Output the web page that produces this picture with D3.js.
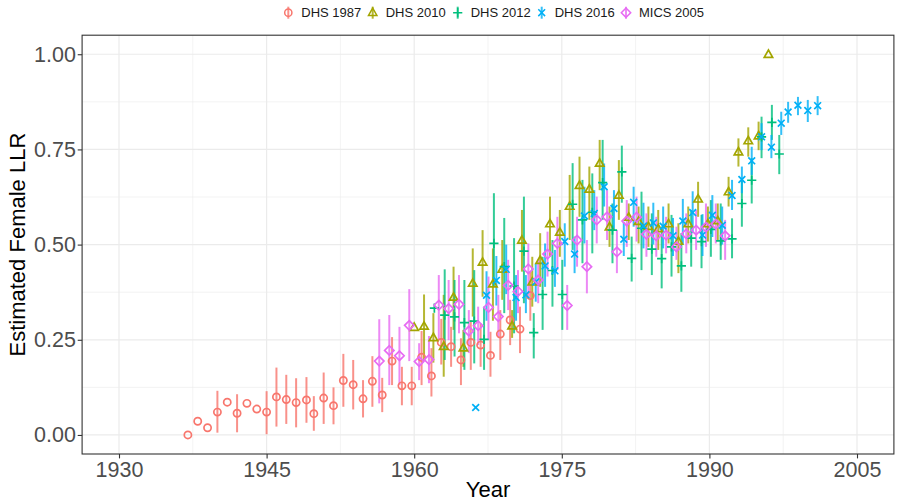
<!DOCTYPE html>
<html>
<head>
<meta charset="utf-8">
<script src="https://cdn.jsdelivr.net/npm/d3@7"></script>
<style>
  html, body { margin: 0; padding: 0; background: #ffffff; }
  svg { display: block; font-family: "Liberation Sans", Arial, Helvetica, sans-serif; }
</style>
</head>
<body>
<svg id="chart" width="897" height="502"></svg>
<script>
// ---------------- DATA ----------------
const seriesNames = ["DHS 1987", "DHS 2010", "DHS 2012", "DHS 2016", "MICS 2005"];
const seriesColors = ["#F8766D", "#A3A500", "#00BF7D", "#00B0F6", "#E76BF3"];
const seriesShapes = ["circle", "triangle", "plus", "cross", "diamond"];

const xTicks = [1930, 1945, 1960, 1975, 1990, 2005];
const yTicks = [0, 0.25, 0.5, 0.75, 1.0];
const xTitle = "Year";
const yTitle = "Estimated Female LLR";

// DHS 1987
const dhs1987Year = [1937.0, 1938.0, 1939.0, 1940.0, 1941.0, 1942.0, 1943.0, 1944.0, 1945.0, 1946.0, 1947.0, 1948.0, 1949.05, 1949.8, 1950.8, 1951.8, 1952.8, 1953.8, 1954.8, 1955.75, 1956.75, 1957.75, 1958.75, 1959.75, 1960.75, 1961.75, 1962.75, 1963.75, 1964.75, 1965.75, 1966.75, 1967.75, 1968.75, 1969.75, 1970.75, 1971.8];
const dhs1987Llr = [0.000, 0.036, 0.019, 0.060, 0.086, 0.057, 0.083, 0.068, 0.060, 0.100, 0.093, 0.085, 0.092, 0.056, 0.097, 0.077, 0.143, 0.132, 0.095, 0.141, 0.105, 0.194, 0.129, 0.129, 0.204, 0.155, 0.243, 0.232, 0.197, 0.243, 0.236, 0.209, 0.265, 0.302, 0.278, 0.366];
const dhs1987Lo = [0.000, 0.036, 0.019, 0.006, 0.086, 0.007, 0.083, 0.068, 0.002, 0.022, 0.029, 0.020, 0.032, 0.011, 0.029, 0.028, 0.074, 0.067, 0.046, 0.074, 0.060, 0.131, 0.078, 0.078, 0.131, 0.101, 0.185, 0.179, 0.131, 0.171, 0.179, 0.153, 0.197, 0.236, 0.215, 0.300];
const dhs1987Hi = [0.000, 0.036, 0.019, 0.116, 0.086, 0.107, 0.083, 0.068, 0.115, 0.177, 0.158, 0.149, 0.152, 0.102, 0.164, 0.125, 0.213, 0.197, 0.144, 0.207, 0.150, 0.257, 0.179, 0.179, 0.273, 0.228, 0.305, 0.284, 0.254, 0.302, 0.293, 0.271, 0.328, 0.355, 0.337, 0.430];

// DHS 2010
const dhs2010Year = [1960.0, 1961.0, 1961.95, 1963.0, 1964.0, 1965.0, 1965.95, 1966.95, 1968.0, 1968.95, 1969.95, 1970.95, 1972.0, 1972.8, 1973.8, 1974.8, 1975.8, 1976.8, 1977.8, 1978.85, 1979.85, 1980.8, 1981.8, 1982.8, 1983.8, 1984.8, 1985.85, 1986.85, 1987.85, 1988.85, 1989.85, 1990.85, 1991.95, 1992.95, 1993.95, 1995.0, 1996.0];
const dhs2010Llr = [0.282, 0.285, 0.255, 0.232, 0.361, 0.228, 0.398, 0.453, 0.396, 0.435, 0.286, 0.511, 0.401, 0.458, 0.554, 0.532, 0.600, 0.655, 0.645, 0.713, 0.546, 0.629, 0.571, 0.560, 0.547, 0.541, 0.554, 0.508, 0.554, 0.619, 0.554, 0.562, 0.638, 0.743, 0.772, 0.785, 0.999];
const dhs2010Lo = [0.282, 0.197, 0.190, 0.153, 0.276, 0.179, 0.311, 0.363, 0.300, 0.355, 0.255, 0.429, 0.337, 0.389, 0.468, 0.468, 0.512, 0.573, 0.565, 0.643, 0.494, 0.565, 0.512, 0.503, 0.494, 0.486, 0.503, 0.425, 0.503, 0.573, 0.508, 0.512, 0.600, 0.705, 0.731, 0.748, 0.999];
const dhs2010Hi = [0.282, 0.369, 0.320, 0.368, 0.442, 0.276, 0.490, 0.538, 0.490, 0.512, 0.328, 0.591, 0.468, 0.530, 0.626, 0.591, 0.683, 0.731, 0.705, 0.775, 0.600, 0.722, 0.608, 0.600, 0.600, 0.591, 0.608, 0.556, 0.600, 0.665, 0.600, 0.608, 0.678, 0.779, 0.808, 0.823, 0.999];

// DHS 2012
const dhs2012Year = [1962.05, 1963.1, 1964.1, 1965.1, 1966.1, 1967.1, 1968.1, 1969.15, 1970.15, 1971.15, 1972.15, 1973.05, 1974.05, 1975.05, 1976.1, 1977.1, 1978.1, 1979.15, 1980.15, 1981.1, 1982.1, 1983.1, 1984.15, 1985.15, 1986.15, 1987.15, 1988.15, 1989.2, 1990.15, 1991.15, 1992.3, 1993.3, 1994.3, 1995.3, 1996.35, 1997.1];
const dhs2012Llr = [0.333, 0.315, 0.310, 0.295, 0.299, 0.251, 0.503, 0.442, 0.391, 0.483, 0.269, 0.369, 0.432, 0.369, 0.606, 0.565, 0.585, 0.663, 0.538, 0.691, 0.464, 0.543, 0.488, 0.463, 0.494, 0.444, 0.517, 0.508, 0.540, 0.510, 0.515, 0.608, 0.669, 0.783, 0.821, 0.738];
const dhs2012Lo = [0.333, 0.197, 0.206, 0.171, 0.188, 0.171, 0.389, 0.320, 0.267, 0.346, 0.201, 0.276, 0.337, 0.276, 0.486, 0.451, 0.477, 0.565, 0.451, 0.610, 0.403, 0.433, 0.420, 0.385, 0.416, 0.376, 0.442, 0.438, 0.468, 0.460, 0.464, 0.547, 0.608, 0.727, 0.775, 0.685];
const dhs2012Hi = [0.333, 0.435, 0.407, 0.407, 0.433, 0.337, 0.635, 0.570, 0.517, 0.626, 0.320, 0.468, 0.512, 0.460, 0.714, 0.670, 0.687, 0.775, 0.608, 0.760, 0.521, 0.639, 0.582, 0.547, 0.578, 0.530, 0.591, 0.578, 0.617, 0.608, 0.569, 0.670, 0.727, 0.836, 0.867, 0.788];

// DHS 2016
const dhs2016Year = [1966.25, 1967.35, 1968.35, 1969.35, 1970.35, 1971.35, 1972.35, 1973.3, 1974.3, 1975.3, 1976.3, 1977.3, 1978.3, 1979.3, 1980.3, 1981.3, 1982.3, 1983.3, 1984.3, 1985.3, 1986.3, 1987.3, 1988.3, 1989.3, 1990.3, 1991.3, 1992.3, 1993.3, 1994.3, 1995.3, 1996.3, 1997.3, 1998.0, 1999.0, 2000.0, 2001.0];
const dhs2016Llr = [0.072, 0.367, 0.406, 0.435, 0.361, 0.368, 0.402, 0.444, 0.431, 0.508, 0.475, 0.575, 0.582, 0.652, 0.595, 0.514, 0.611, 0.549, 0.557, 0.548, 0.523, 0.562, 0.584, 0.525, 0.577, 0.551, 0.629, 0.671, 0.720, 0.783, 0.756, 0.819, 0.848, 0.866, 0.852, 0.865];
const dhs2016Lo = [0.072, 0.300, 0.340, 0.370, 0.300, 0.320, 0.350, 0.389, 0.389, 0.442, 0.425, 0.503, 0.538, 0.600, 0.538, 0.470, 0.547, 0.490, 0.500, 0.490, 0.470, 0.500, 0.530, 0.470, 0.520, 0.500, 0.591, 0.635, 0.683, 0.748, 0.727, 0.788, 0.820, 0.840, 0.822, 0.840];
const dhs2016Hi = [0.072, 0.430, 0.470, 0.500, 0.420, 0.420, 0.450, 0.503, 0.486, 0.556, 0.521, 0.652, 0.643, 0.713, 0.643, 0.560, 0.652, 0.610, 0.610, 0.600, 0.570, 0.620, 0.640, 0.580, 0.630, 0.600, 0.670, 0.705, 0.757, 0.819, 0.788, 0.849, 0.875, 0.888, 0.880, 0.890];

// MICS 2005
const mics2005Year = [1956.45, 1957.47, 1958.5, 1959.5, 1960.5, 1961.5, 1962.5, 1963.5, 1964.55, 1965.55, 1966.5, 1967.55, 1968.55, 1969.55, 1970.55, 1971.6, 1972.6, 1973.55, 1974.55, 1975.55, 1976.55, 1977.55, 1978.55, 1979.6, 1980.6, 1981.6, 1982.6, 1983.6, 1984.6, 1985.6, 1986.65, 1987.65, 1988.65, 1989.65, 1990.65, 1991.6];
const mics2005Llr = [0.194, 0.222, 0.208, 0.288, 0.193, 0.198, 0.341, 0.332, 0.343, 0.273, 0.287, 0.335, 0.311, 0.393, 0.377, 0.436, 0.407, 0.475, 0.503, 0.340, 0.512, 0.442, 0.565, 0.573, 0.481, 0.562, 0.572, 0.527, 0.523, 0.525, 0.494, 0.528, 0.538, 0.546, 0.554, 0.523];
const mics2005Lo = [0.083, 0.131, 0.131, 0.194, 0.144, 0.136, 0.250, 0.249, 0.267, 0.215, 0.236, 0.249, 0.258, 0.328, 0.320, 0.363, 0.346, 0.416, 0.433, 0.276, 0.442, 0.372, 0.503, 0.512, 0.425, 0.494, 0.508, 0.468, 0.468, 0.477, 0.460, 0.477, 0.486, 0.494, 0.503, 0.460];
const mics2005Hi = [0.304, 0.315, 0.284, 0.383, 0.241, 0.260, 0.420, 0.407, 0.420, 0.328, 0.337, 0.416, 0.368, 0.460, 0.433, 0.503, 0.460, 0.534, 0.573, 0.394, 0.573, 0.512, 0.626, 0.643, 0.538, 0.617, 0.626, 0.582, 0.573, 0.573, 0.547, 0.582, 0.591, 0.608, 0.608, 0.565];

// ---------------- BUILD ----------------
const seriesData = [
  [dhs1987Year, dhs1987Llr, dhs1987Lo, dhs1987Hi],
  [dhs2010Year, dhs2010Llr, dhs2010Lo, dhs2010Hi],
  [dhs2012Year, dhs2012Llr, dhs2012Lo, dhs2012Hi],
  [dhs2016Year, dhs2016Llr, dhs2016Lo, dhs2016Hi],
  [mics2005Year, mics2005Llr, mics2005Lo, mics2005Hi]
];
const series = seriesNames.map((name, i) => ({
  name, color: seriesColors[i], shape: seriesShapes[i],
  points: seriesData[i][0].map((yr, j) => ({
    x: yr, y: seriesData[i][1][j], lo: seriesData[i][2][j], hi: seriesData[i][3][j]
  }))
}));

const svg = d3.select("#chart");
const panel = { left: 82.1, right: 893.9, top: 35.2, bottom: 454.0 };

const x = d3.scaleLinear().domain([1926.25, 2008.75]).range([panel.left, panel.right]);
const y = d3.scaleLinear().domain([-0.05, 1.05]).range([panel.bottom, panel.top]);

// grid
const grid = svg.append("g");
const xMinor = d3.range(1937.5, 2008.75, 15);
const yMinor = [0.125, 0.375, 0.625, 0.875];
grid.selectAll(".xminor").data(xMinor).join("line")
  .attr("x1", d => x(d)).attr("x2", d => x(d))
  .attr("y1", panel.top).attr("y2", panel.bottom)
  .attr("stroke", "#ebebeb").attr("stroke-width", 0.6);
grid.selectAll(".yminor").data(yMinor).join("line")
  .attr("x1", panel.left).attr("x2", panel.right)
  .attr("y1", d => y(d)).attr("y2", d => y(d))
  .attr("stroke", "#ebebeb").attr("stroke-width", 0.6);
grid.selectAll(".xmajor").data(xTicks).join("line")
  .attr("x1", d => x(d)).attr("x2", d => x(d))
  .attr("y1", panel.top).attr("y2", panel.bottom)
  .attr("stroke", "#ebebeb").attr("stroke-width", 1.2);
grid.selectAll(".ymajor").data(yTicks).join("line")
  .attr("x1", panel.left).attr("x2", panel.right)
  .attr("y1", d => y(d)).attr("y2", d => y(d))
  .attr("stroke", "#ebebeb").attr("stroke-width", 1.2);

// shapes
const shapePaths = {
  circle: "M3.6,0A3.6,3.6,0,1,1,-3.6,0A3.6,3.6,0,1,1,3.6,0Z",
  triangle: "M0,-4.6L4.2,2.7L-4.2,2.7Z",
  plus: "M-4.6,0L4.6,0M0,-4.6L0,4.6",
  cross: "M-3.4,-3.4L3.4,3.4M-3.4,3.4L3.4,-3.4",
  diamond: "M0,-4.7L4.7,0L0,4.7L-4.7,0Z"
};
function shapeD(shape) { return shapePaths[shape]; }

const plot = svg.append("g");
// error bars first
series.forEach(s => {
  plot.append("g").selectAll("line").data(s.points.filter(p => p.hi > p.lo)).join("line")
    .attr("x1", d => x(d.x)).attr("x2", d => x(d.x))
    .attr("y1", d => y(d.lo)).attr("y2", d => y(d.hi))
    .attr("stroke", s.color).attr("stroke-width", 2).attr("stroke-opacity", 0.8);
});
// points
series.forEach(s => {
  plot.append("g").selectAll("path").data(s.points).join("path")
    .attr("transform", d => `translate(${x(d.x)},${y(d.y)})`)
    .attr("d", shapeD(s.shape))
    .attr("fill", "none").attr("stroke", s.color)
    .attr("stroke-width", 1.7);
});

// panel border
svg.append("rect")
  .attr("x", panel.left).attr("y", panel.top)
  .attr("width", panel.right - panel.left).attr("height", panel.bottom - panel.top)
  .attr("fill", "none").attr("stroke", "#333333").attr("stroke-width", 1.1);

// axes
const xAxis = svg.append("g").attr("transform", `translate(0,${panel.bottom})`)
  .call(d3.axisBottom(x).tickValues(xTicks).tickFormat(d3.format("d")).tickSize(4.4).tickPadding(3));
const yAxis = svg.append("g").attr("transform", `translate(${panel.left},0)`)
  .call(d3.axisLeft(y).tickValues(yTicks).tickFormat(d3.format(".2f")).tickSize(4.4).tickPadding(1.8));
[xAxis, yAxis].forEach(a => {
  a.select(".domain").remove();
  a.selectAll(".tick line").attr("stroke", "#333333").attr("stroke-width", 1.1);
  a.selectAll(".tick text").attr("fill", "#4d4d4d").style("font-size", "21.5px")
    .style("font-family", '"Liberation Sans", Arial, Helvetica, sans-serif');
});

// titles
svg.append("text").attr("x", (panel.left + panel.right) / 2).attr("y", 497)
  .attr("text-anchor", "middle").style("font-size", "22px").attr("fill", "#000")
  .text(xTitle);
svg.append("text").attr("transform", `translate(25,${(panel.top + panel.bottom) / 2}) rotate(-90)`)
  .attr("text-anchor", "middle").style("font-size", "22px").attr("fill", "#000")
  .text(yTitle);

// legend
const legendX = [288.3, 372.7, 457.7, 541.7, 626];
const legend = svg.append("g");
series.forEach((s, i) => {
  const g = legend.append("g").attr("transform", `translate(${legendX[i]},12.7)`);
  g.append("line").attr("x1", 0).attr("x2", 0).attr("y1", -6).attr("y2", 6)
    .attr("stroke", s.color).attr("stroke-width", 2).attr("stroke-opacity", 0.8);
  g.append("path").attr("d", shapeD(s.shape)).attr("fill", "none")
    .attr("stroke", s.color).attr("stroke-width", 1.5);
  g.append("text").attr("x", 13).attr("y", 4.6).style("font-size", "13px")
    .attr("fill", "#1a1a1a").text(s.name);
});
</script>
</body>
</html>
